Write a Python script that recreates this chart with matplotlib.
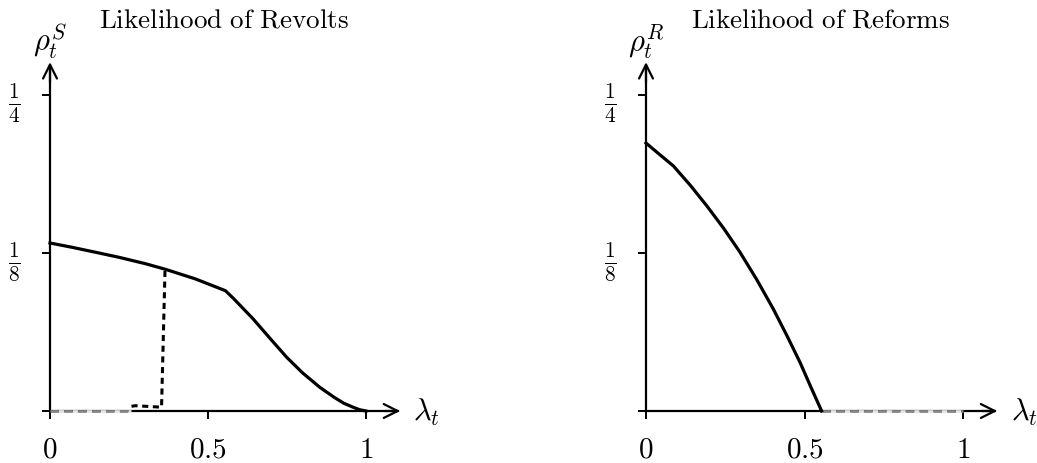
import numpy as np
import matplotlib
matplotlib.use("Agg")
import matplotlib.pyplot as plt

plt.rcParams['mathtext.fontset'] = 'cm'
plt.rcParams['font.family'] = 'serif'
plt.rcParams['font.serif'] = ['DejaVu Serif']

# revolts: solid curve (kink near 0.555)
rev_x = [0.0, 0.07, 0.142, 0.22, 0.301, 0.364, 0.459, 0.555,
         0.58, 0.60, 0.643, 0.70, 0.749, 0.80, 0.854, 0.90, 0.93, 0.96, 0.98, 1.0]
rev_y = [0.1329, 0.1295, 0.1257, 0.1215, 0.1166, 0.1122, 0.1046, 0.0952,
         0.0892, 0.0840, 0.0728, 0.0564, 0.0425, 0.0300, 0.0187, 0.0107, 0.0061, 0.0029, 0.0010, 0.0]
# revolts: dashed curve (on the axis, then small bump, then jump)
rev_dash_axis_x = [0.0, 0.255]
rev_dash_axis_y = [0.0, 0.0]
rev_dash_x = [0.258, 0.27, 0.353, 0.364]
rev_dash_y = [0.0037, 0.0042, 0.0030, 0.1122]

# reforms: solid curve
ref_x = [0.0, 0.045, 0.0866, 0.14, 0.1915, 0.245, 0.2965, 0.35, 0.4016, 0.445, 0.4858, 0.52, 0.554]
ref_y = [0.212, 0.2025, 0.1938, 0.1785, 0.1624, 0.1445, 0.1256, 0.1037, 0.0807, 0.0594, 0.0385, 0.0190, 0.0]
ref_dash_x = [0.554, 1.0]
ref_dash_y = [0.0, 0.0]

x_ticks = [0, 0.5, 1]
x_labels = ['$0$', '$0.5$', '$1$']
y_ticks = [0, 1 / 8, 1 / 4]
y_labels = ['', r'$\frac{1}{8}$', r'$\frac{1}{4}$']

W, H = 1037, 464
fig = plt.figure(figsize=(W / 100, H / 100), dpi=100)

XMIN, XMAX = -0.15, 1.2
YMIN, YMAX = -0.03, 0.29
PX_Y = 1264.0  # px per unit on y
Y0 = 412.0     # pixel row of y=0


def make_axes(x0_px, px_x):
    left = x0_px + XMIN * px_x
    width = (XMAX - XMIN) * px_x
    top = Y0 - YMAX * PX_Y
    bottom = Y0 - YMIN * PX_Y
    ax = fig.add_axes([left / W, (H - bottom) / H, width / W, (bottom - top) / H])
    ax.set_xlim(XMIN, XMAX)
    ax.set_ylim(YMIN, YMAX)
    ax.patch.set_visible(False)
    for s in ['top', 'right']:
        ax.spines[s].set_visible(False)
    ax.spines['left'].set_position(('data', 0))
    ax.spines['bottom'].set_position(('data', 0))
    ax.spines['left'].set_bounds(0, 0.27)
    ax.spines['bottom'].set_bounds(0, 1.10)
    ax.spines['left'].set_linewidth(1.6)
    ax.spines['bottom'].set_linewidth(1.6)
    ax.set_xticks(x_ticks)
    ax.set_xticklabels(x_labels)
    ax.set_yticks(y_ticks)
    ax.set_yticklabels(y_labels)
    ax.tick_params(axis='x', direction='out', length=6, width=1.4, pad=11, labelsize=21)
    ax.tick_params(axis='y', direction='out', length=6, width=1.4, pad=20, labelsize=22)
    for lab in ax.get_yticklabels():
        lab.set_horizontalalignment('center')
    # arrow heads
    ax.annotate('', xy=(1.108, 0), xytext=(1.06, 0),
                arrowprops=dict(arrowstyle='->', lw=1.6, color='black',
                                mutation_scale=25, shrinkA=0, shrinkB=0))
    ax.annotate('', xy=(0, 0.276), xytext=(0, 0.26),
                arrowprops=dict(arrowstyle='->', lw=1.6, color='black',
                                mutation_scale=25, shrinkA=0, shrinkB=0))
    ax.text(1.15, 0.0, r'$\lambda_t$', fontsize=22, ha='left', va='center')
    return ax


ax1 = make_axes(50, 316)
ax1.plot(rev_dash_axis_x, rev_dash_axis_y, color='#888888', gapcolor='#e6e6e6',
         lw=2.0, ls=(0, (3, 2)), zorder=5)
ax1.plot(rev_dash_x, rev_dash_y, color='black', lw=2.2, ls=(0, (2, 1.5)), zorder=5)
ax1.plot(rev_x, rev_y, color='black', lw=2.3, zorder=6, solid_joinstyle='round')
ax1.text(0.0, 0.293, r'$\rho_t^S$', fontsize=22, ha='center', va='center')
ax1.text(0.55, 0.310, r'$\mathrm{Likelihood\ of\ Revolts}$', fontsize=19.5,
         ha='center', va='center')

ax2 = make_axes(646, 317)
ax2.plot(ref_dash_x, ref_dash_y, color='#888888', gapcolor='#e6e6e6',
         lw=2.0, ls=(0, (3, 2)), zorder=5)
ax2.plot(ref_x, ref_y, color='black', lw=2.3, zorder=6, solid_joinstyle='round')
ax2.text(0.0, 0.293, r'$\rho_t^R$', fontsize=22, ha='center', va='center')
ax2.text(0.55, 0.310, r'$\mathrm{Likelihood\ of\ Reforms}$', fontsize=19.5,
         ha='center', va='center')

fig.savefig('out.png', dpi=100)
